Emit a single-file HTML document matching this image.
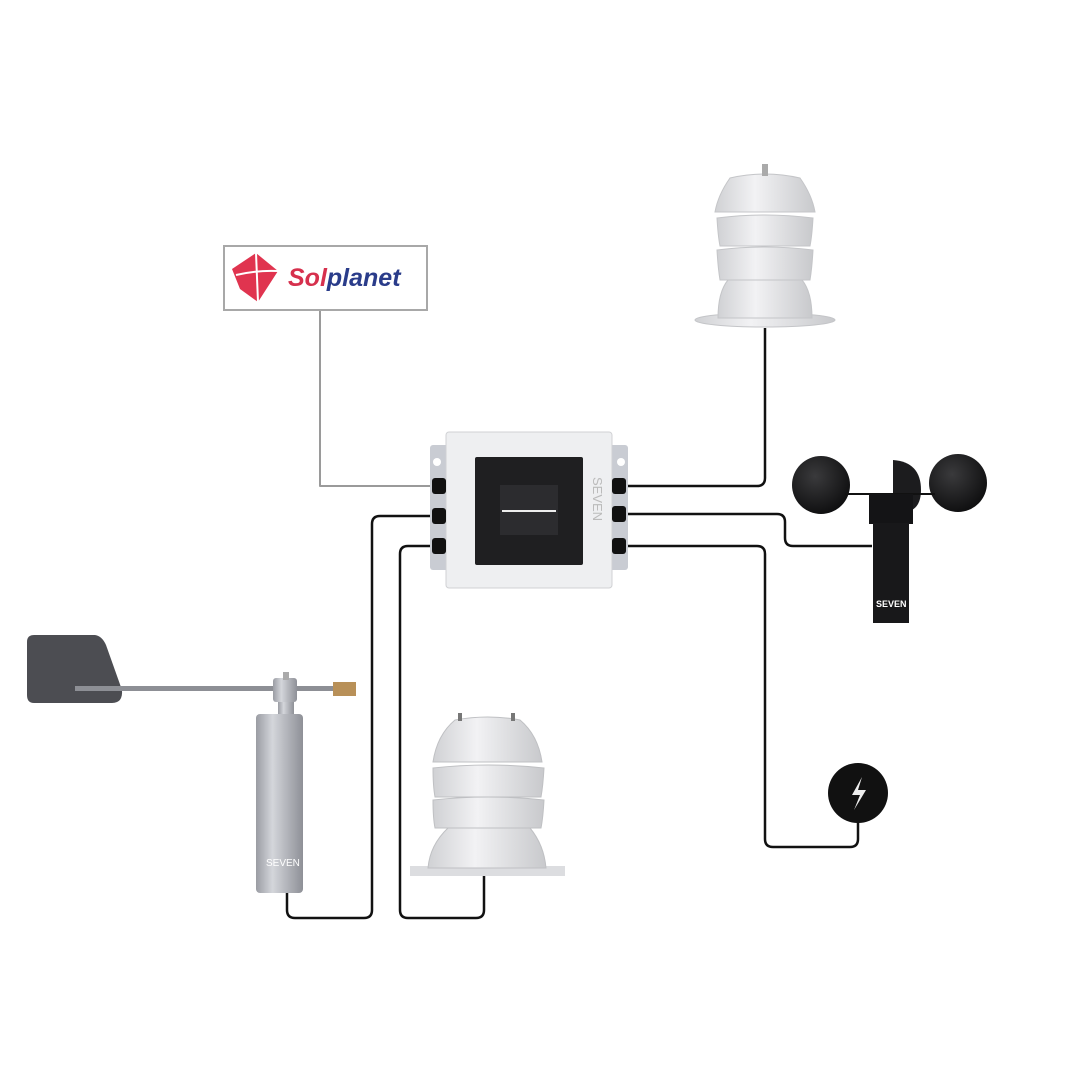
<!DOCTYPE html>
<html><head><meta charset="utf-8"><style>html,body{margin:0;padding:0;background:#fff}svg{display:block}</style></head>
<body>
<svg width="1080" height="1080" viewBox="0 0 1080 1080" xmlns="http://www.w3.org/2000/svg">
<defs>
<linearGradient id="metal" x1="0" x2="1" y1="0" y2="0"><stop offset="0" stop-color="#9a9ca3"/><stop offset="0.35" stop-color="#d4d6db"/><stop offset="1" stop-color="#8e9097"/></linearGradient>
<linearGradient id="shield" x1="0" x2="1"><stop offset="0" stop-color="#d0d1d4"/><stop offset="0.4" stop-color="#f2f2f4"/><stop offset="1" stop-color="#c8c9cc"/></linearGradient>
<radialGradient id="cup" cx="0.4" cy="0.35" r="0.7"><stop offset="0" stop-color="#3a3a3c"/><stop offset="1" stop-color="#0d0d0e"/></radialGradient>
</defs>
<g fill="none" stroke-linejoin="round">
<path d="M320 310 V486 H432" stroke="#9a9a9a" stroke-width="2"/>
<path d="M432 516 H380 Q372 516 372 524 V910 Q372 918 364 918 H295 Q287 918 287 910 V893" stroke="#111" stroke-width="2.5"/>
<path d="M432 546 H408 Q400 546 400 554 V910 Q400 918 408 918 H476 Q484 918 484 910 V875" stroke="#111" stroke-width="2.5"/>
<path d="M628 486 H757 Q765 486 765 478 V328" stroke="#111" stroke-width="2.5"/>
<path d="M628 514 H777 Q785 514 785 522 V538 Q785 546 793 546 H872" stroke="#111" stroke-width="2.5"/>
<path d="M628 546 H757 Q765 546 765 554 V839 Q765 847 773 847 H850 Q858 847 858 839 V822" stroke="#111" stroke-width="2.5"/>
</g>
<rect x="224" y="246" width="203" height="64" fill="#fff" stroke="#a8a8a8" stroke-width="2"/>
<polygon points="232,269 256,253 278,271 258,302 240,289" fill="#e0344f"/>
<path d="M256 253 L258 302 M236 275 Q258 270 278 271" stroke="#fff" stroke-width="2" fill="none"/>
<text x="288" y="286" font-family="Liberation Sans, sans-serif" font-weight="bold" font-style="italic" font-size="25" fill="#d6304d">Sol<tspan fill="#2a3c8a">planet</tspan></text>
<rect x="430" y="445" width="24" height="125" rx="3" fill="#c9ccd3"/>
<rect x="604" y="445" width="24" height="125" rx="3" fill="#c9ccd3"/>
<circle cx="437" cy="462" r="4" fill="#fff"/><circle cx="621" cy="462" r="4" fill="#fff"/>
<rect x="446" y="432" width="166" height="156" rx="3" fill="#eeeff1" stroke="#d0d1d4"/>
<rect x="475" y="457" width="108" height="108" rx="2" fill="#1f1f21"/>
<rect x="500" y="485" width="58" height="50" fill="#2c2c2f"/>
<line x1="502" y1="511" x2="556" y2="511" stroke="#eee" stroke-width="2"/>
<text transform="translate(593,477) rotate(90)" font-family="Liberation Sans, sans-serif" font-size="13" fill="#bbb">SEVEN</text>
<g fill="#111">
<rect x="432" y="478" width="14" height="16" rx="3"/><rect x="432" y="508" width="14" height="16" rx="3"/><rect x="432" y="538" width="14" height="16" rx="3"/>
<rect x="612" y="478" width="14" height="16" rx="3"/><rect x="612" y="506" width="14" height="16" rx="3"/><rect x="612" y="538" width="14" height="16" rx="3"/>
</g>
<!-- top shield -->
<g fill="url(#shield)" stroke="#c4c5c8" stroke-width="1">
<ellipse cx="765" cy="320" rx="70" ry="7"/>
<path d="M728 280 H802 Q812 292 812 318 H718 Q718 292 728 280Z"/>
<path d="M717 250 Q718 268 720 280 H810 Q812 268 813 250 Q765 244 717 250Z"/>
<path d="M717 218 Q718 236 720 246 H810 Q812 236 813 218 Q765 212 717 218Z"/>
<path d="M730 178 Q765 170 800 178 Q812 195 815 212 H715 Q718 195 730 178Z"/>
</g>
<rect x="762" y="164" width="6" height="12" fill="#aaa"/>
<!-- anemometer -->
<circle cx="821" cy="485" r="29" fill="url(#cup)"/>
<circle cx="958" cy="483" r="29" fill="url(#cup)"/>
<path d="M893 460 Q921 462 921 490 Q921 505 912 510 H893Z" fill="#1c1c1e"/>
<line x1="845" y1="494" x2="935" y2="494" stroke="#111" stroke-width="2"/>
<rect x="869" y="494" width="44" height="30" fill="#141416"/>
<rect x="873" y="523" width="36" height="100" fill="#18181a"/>
<text x="876" y="607" font-family="Liberation Sans, sans-serif" font-size="9" font-weight="bold" fill="#fff">SEVEN</text>
<circle cx="858" cy="793" r="30" fill="#111"/>
<path d="M862 777 L852 795 H860 L854 810 L866 790 H858Z" fill="#eee"/>
<!-- wind vane -->
<path d="M34 635 H95 Q102 636 106 645 L122 690 Q123 703 112 703 H34 Q27 703 27 695 V642 Q27 635 34 635Z" fill="#4c4d52"/>
<rect x="75" y="686" width="260" height="5" fill="#8d8f95"/>
<rect x="333" y="682" width="23" height="14" fill="#b89058"/>
<rect x="273" y="678" width="24" height="24" rx="3" fill="url(#metal)"/>
<rect x="283" y="672" width="6" height="8" fill="#aaa"/>
<rect x="278" y="702" width="16" height="12" fill="url(#metal)"/>
<rect x="256" y="714" width="47" height="179" rx="4" fill="url(#metal)"/>
<text x="266" y="866" font-family="Liberation Sans, sans-serif" font-size="10" fill="#fff">SEVEN</text>
<!-- bottom shield -->
<rect x="410" y="866" width="155" height="10" fill="#dcdde0"/>
<g fill="url(#shield)" stroke="#bfc0c3" stroke-width="1">
<path d="M448 828 H530 Q544 845 546 868 H428 Q430 845 448 828Z"/>
<path d="M433 800 Q433 818 435 828 H541 Q543 818 544 800 Q488 794 433 800Z"/>
<path d="M433 768 Q433 786 435 797 H541 Q543 786 544 768 Q488 762 433 768Z"/>
<path d="M455 720 Q488 714 520 720 Q538 735 542 762 H433 Q437 735 455 720Z"/>
</g>
<rect x="458" y="713" width="4" height="8" fill="#777"/><rect x="511" y="713" width="4" height="8" fill="#777"/>
</svg>
</body></html>
